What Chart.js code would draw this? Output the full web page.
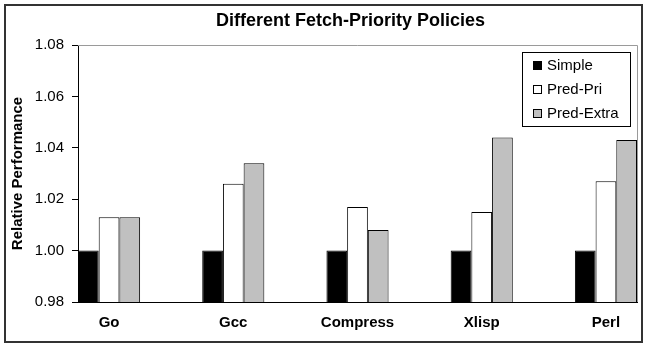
<!DOCTYPE html>
<html>
<head>
<meta charset="utf-8">
<script src="https://cdn.jsdelivr.net/npm/chart.js@4/dist/chart.umd.min.js"></script>
<style>
  html, body { margin: 0; padding: 0; background: #fff; }
  #wrap { width: 645px; height: 346px; }
</style>
</head>
<body>
<div id="wrap"><canvas id="c" width="645" height="346"></canvas></div>
<script>
// Benchmarks and relative performance of each fetch-priority policy
const categories = ['Go', 'Gcc', 'Compress', 'Xlisp', 'Perl'];
const simple    = [1.000, 1.000, 1.000, 1.000, 1.000];
const predPri   = [1.013, 1.026, 1.017, 1.015, 1.027];
const predExtra = [1.013, 1.034, 1.008, 1.044, 1.043];
const yTicks = [0.98, 1.00, 1.02, 1.04, 1.06, 1.08];
const seriesNames = ['Simple', 'Pred-Pri', 'Pred-Extra'];
const chartTitle = 'Different Fetch-Priority Policies';

const FONT = '"Liberation Sans", Arial, sans-serif';

const toPoints = vals => vals.map((v, i) => ({ x: i, y: v }));

// Frame, plot border, title and boxed legend
const decorations = {
  id: 'decorations',
  beforeDraw(chart) {
    const ctx = chart.ctx;
    ctx.save();
    ctx.fillStyle = '#fff';
    ctx.fillRect(0, 0, chart.width, chart.height);
    ctx.restore();
  },
  afterDatasetsDraw(chart) {
    const ctx = chart.ctx;
    const a = chart.chartArea;
    ctx.save();
    // plot area top / right edges
    ctx.strokeStyle = '#9a9a9a';
    ctx.lineWidth = 1;
    ctx.beginPath();
    ctx.moveTo(a.left, a.top + 0.5);
    ctx.lineTo(a.right + 0.5, a.top + 0.5);
    ctx.lineTo(a.right + 0.5, a.bottom);
    ctx.stroke();
    ctx.restore();
  },
  afterDraw(chart) {
    const ctx = chart.ctx;
    const a = chart.chartArea;
    ctx.save();
    // outer frame
    ctx.strokeStyle = '#333';
    ctx.lineWidth = 2;
    ctx.strokeRect(5, 5, 637, 337);

    // title
    ctx.fillStyle = '#000';
    ctx.font = 'bold 18px ' + FONT;
    ctx.textAlign = 'center';
    ctx.textBaseline = 'middle';
    ctx.fillText(chartTitle, (a.left + a.right) / 2 - 7, 21);

    // legend box
    const bx = 522, by = 52, bw = 108, bh = 74;
    ctx.fillStyle = '#fff';
    ctx.fillRect(bx, by, bw, bh);
    ctx.strokeStyle = '#000';
    ctx.lineWidth = 1;
    ctx.strokeRect(bx + 0.5, by + 0.5, bw, bh);
    ctx.font = '15px ' + FONT;
    ctx.textAlign = 'left';
    chart.data.datasets.forEach((ds, i) => {
      const cy = 65 + i * 24;
      ctx.fillStyle = ds.backgroundColor;
      ctx.fillRect(533, cy - 4, 9, 9);
      ctx.strokeStyle = '#000';
      ctx.strokeRect(533.5, cy - 3.5, 8, 8);
      ctx.fillStyle = '#000';
      ctx.fillText(ds.label, 547, cy + 1);
    });
    ctx.restore();
  }
};

new Chart(document.getElementById('c'), {
  type: 'bar',
  data: {
    datasets: [
      { label: seriesNames[0], data: toPoints(simple),    backgroundColor: '#000000', borderColor: '#000', borderWidth: 1 },
      { label: seriesNames[1], data: toPoints(predPri),   backgroundColor: '#ffffff', borderColor: '#000', borderWidth: 1 },
      { label: seriesNames[2], data: toPoints(predExtra), backgroundColor: '#c0c0c0', borderColor: '#000', borderWidth: 1 }
    ]
  },
  options: {
    responsive: false,
    animation: false,
    devicePixelRatio: 1,
    layout: { padding: { left: 6, right: 8, top: 45, bottom: 0 } },
    datasets: { bar: { categoryPercentage: 0.5, barPercentage: 1.0 } },
    plugins: {
      legend: { display: false },
      title: { display: false },
      tooltip: { enabled: false }
    },
    scales: {
      x: {
        type: 'linear',
        offset: false,
        min: -0.25,
        max: 4.25,
        afterBuildTicks: s => { s.ticks = categories.map((c, i) => ({ value: i })); },
        afterFit: s => { s.height = 44; },
        grid: { display: false, drawTicks: false, offset: false },
        border: { display: true, color: '#000', width: 1 },
        ticks: {
          callback: v => categories[v],
          autoSkip: false,
          maxRotation: 0,
          padding: 12,
          color: '#000',
          font: { family: FONT, size: 15, weight: 'bold' }
        }
      },
      y: {
        min: 0.98,
        max: 1.08,
        afterBuildTicks: s => { s.ticks = yTicks.map(v => ({ value: v })); },
        afterFit: s => { s.width = 72; },
        grid: { drawOnChartArea: false, drawTicks: true, tickLength: 6, color: '#000' },
        border: { display: true, color: '#000', width: 1 },
        ticks: {
          callback: v => Number(v).toFixed(2),
          padding: 8,
          color: '#000',
          font: { family: FONT, size: 15 }
        },
        title: {
          display: true,
          text: 'Relative Performance',
          color: '#000',
          padding: { top: 3, bottom: 0 },
          font: { family: FONT, size: 15, weight: 'bold' }
        }
      }
    }
  },
  plugins: [decorations]
});
</script>
</body>
</html>
